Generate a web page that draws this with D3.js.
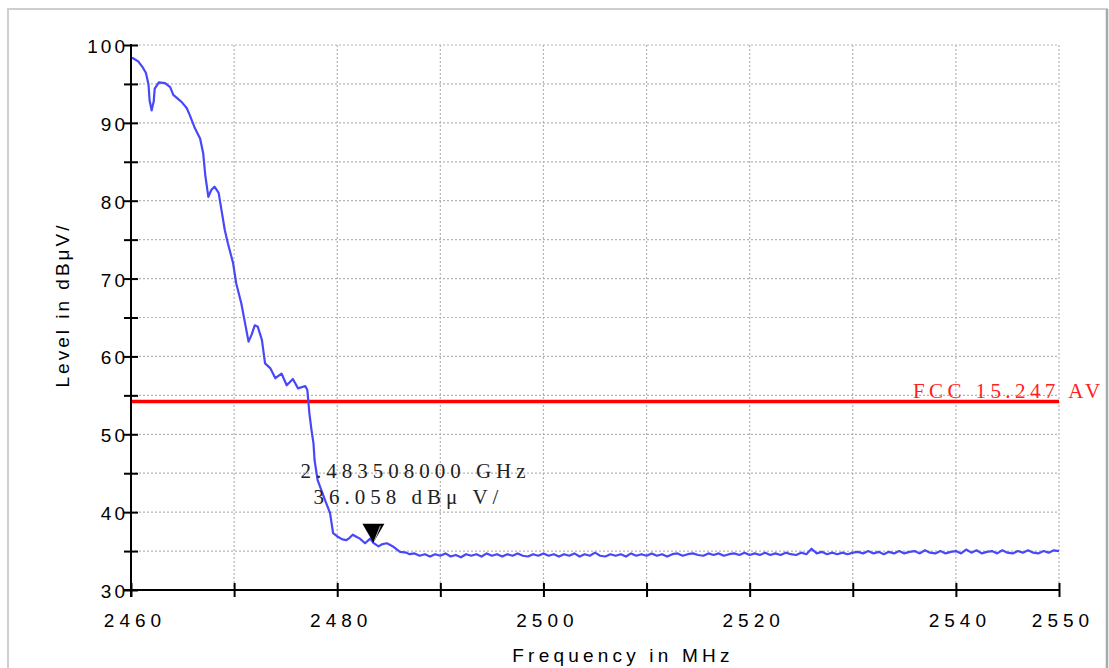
<!DOCTYPE html>
<html><head><meta charset="utf-8">
<script src="https://cdn.jsdelivr.net/npm/d3@7"></script>
<style>html,body{margin:0;padding:0;background:#fff;}svg{display:block;}</style>
</head><body>
<svg id="chart" width="1109" height="668"></svg>
<script>
// ---- data ----
const traceFreq = [2460.0,2460.2,2460.7,2461.1,2461.45,2461.7,2461.8,2462.0,2462.1,2462.2,2462.3,2462.7,2463.3,2463.8,2464.1,2464.9,2465.4,2465.7,2466.2,2466.7,2467.0,2467.2,2467.5,2467.8,2468.1,2468.5,2468.8,2469.1,2469.4,2469.9,2470.2,2470.7,2471.0,2471.4,2471.7,2472.0,2472.3,2472.7,2473.0,2473.5,2474.0,2474.6,2475.1,2475.7,2476.2,2476.9,2477.1,2477.3,2477.5,2477.7,2477.8,2478.1,2478.8,2479.3,2479.6,2480.1,2480.5,2480.9,2481.2,2481.5,2481.9,2482.2,2482.7,2483.2,2483.5,2484.0,2484.4,2484.8,2485.1,2485.4,2485.8,2486.1,2486.7,2487.0,
2487.5,2488,2488.5,2489,2489.5,2490,2490.5,2491,2491.5,2492,2492.5,2493,2493.5,2494,2494.5,2495,2495.5,2496,2496.5,2497,2497.5,2498,2498.5,2499,2499.5,2500,2500.5,2501,2501.5,2502,2502.5,2503,2503.5,2504,2504.5,2505,2505.5,2506,2506.5,2507,2507.5,2508,2508.5,2509,2509.5,2510,2510.5,2511,2511.5,2512,2512.5,2513,2513.5,2514,2514.5,2515,2515.5,2516,2516.5,2517,2517.5,2518,2518.5,2519,2519.5,2520,2520.5,2521,2521.5,2522,2522.5,2523,2523.5,2524,2524.5,2525,2525.5,2526,2526.5,2527,2527.5,2528,2528.5,2529,2529.5,2530,2530.5,2531,2531.5,2532,2532.5,2533,2533.5,2534,2534.5,2535,2535.5,2536,2536.5,2537,2537.5,2538,2538.5,2539,2539.5,2540,2540.5,2541,2541.5,2542,2542.5,2543,2543.5,2544,2544.5,2545,2545.5,2546,2546.5,2547,2547.5,2548,2548.5,2549,2549.5,2550];
const traceLevel = [98.4,98.3,97.9,97.2,96.4,94.9,92.9,91.6,92.2,92.7,94.4,95.2,95.1,94.6,93.6,92.7,91.9,91.0,89.3,88.0,86.1,83.3,80.5,81.4,81.8,81.0,78.6,76.2,74.5,72.0,69.4,66.8,64.7,61.9,62.8,64.0,63.8,62.1,59.1,58.5,57.2,57.8,56.3,57.1,55.9,56.2,55.7,52.7,50.6,48.8,46.7,44.1,41.6,39.9,37.3,36.8,36.5,36.4,36.7,37.1,36.8,36.6,36.0,36.6,36.06,35.6,35.9,36.0,35.8,35.6,35.2,34.9,34.8,34.6,
34.7,34.4,34.6,34.3,34.6,34.4,34.7,34.3,34.5,34.2,34.6,34.4,34.6,34.3,34.7,34.4,34.6,34.3,34.6,34.4,34.7,34.4,34.3,34.6,34.4,34.7,34.4,34.6,34.3,34.6,34.4,34.7,34.3,34.6,34.4,34.8,34.4,34.3,34.6,34.4,34.6,34.3,34.7,34.4,34.6,34.4,34.7,34.4,34.6,34.3,34.6,34.7,34.4,34.6,34.7,34.5,34.4,34.7,34.5,34.7,34.4,34.6,34.7,34.5,34.8,34.5,34.7,34.5,34.8,34.5,34.7,34.5,34.8,34.6,34.5,34.8,34.6,35.3,34.7,34.9,34.6,34.8,34.6,34.8,34.6,34.8,34.9,34.7,35.0,34.7,34.9,34.6,34.9,34.7,35.0,34.7,34.9,35.0,34.7,35.1,34.8,34.7,35.0,34.7,34.9,35.0,34.7,35.2,34.8,35.1,34.7,34.9,35.0,34.7,35.1,34.8,34.7,35.0,34.8,35.1,34.8,34.7,35.0,34.8,35.1,35.0];
const limitLevel = 54.2;
const limitLabel = "FCC 15.247 AV";
const markerFreq = 2483.508;
const markerLevel = 36.058;
const markerLine1 = "2.483508000 GHz";
const markerLine2 = "36.058 dBμ V/";
const xTickValues = [2460,2470,2480,2490,2500,2510,2520,2530,2540,2550];
const xTickLabels = [2460,2480,2500,2520,2540,2550];
const yTickValues = [30,35,40,45,50,55,60,65,70,75,80,85,90,95,100];
const yTickLabels = [30,40,50,60,70,80,90,100];
const xTitle = "Frequency in MHz";
const yTitle = "Level in dBμV/";

// ---- drawing ----
const svg = d3.select("#chart");
const x = d3.scaleLinear().domain([2460, 2550]).range([131, 1059]);
const y = d3.scaleLinear().domain([30, 100]).range([590, 45]);

// outer frame
svg.append("rect").attr("x", 8).attr("y", 9).attr("width", 1099).attr("height", 700)
  .attr("fill", "#fff").attr("stroke", "#cfcfcf").attr("stroke-width", 2);
svg.append("line").attr("x1", 1107).attr("x2", 1107).attr("y1", 9).attr("y2", 668)
  .attr("stroke", "#a8a8a8").attr("stroke-width", 2.5);

// grid
const grid = svg.append("g").attr("stroke", "#b4b4b4").attr("stroke-width", 1.2).attr("stroke-dasharray", "2,2");
xTickValues.filter(v => v > 2460).forEach(v => {
  grid.append("line").attr("x1", x(v)).attr("x2", x(v)).attr("y1", y(100)).attr("y2", y(30));
});
yTickValues.filter(v => v > 30).forEach(v => {
  grid.append("line").attr("x1", x(2460)).attr("x2", x(2550)).attr("y1", y(v)).attr("y2", y(v));
});

// limit line
svg.append("line").attr("x1", x(2460)).attr("x2", x(2550)).attr("y1", y(limitLevel)).attr("y2", y(limitLevel))
  .attr("stroke", "#ff0000").attr("stroke-width", 3.5);
svg.append("text").attr("x", x(2550) - 146).attr("y", y(limitLevel) - 4)
  .attr("font-family", "'Liberation Serif', serif").attr("font-size", 21).attr("letter-spacing", 4.4)
  .attr("fill", "#ff2020").text(limitLabel);

// trace
const pts = traceFreq.map((f, i) => [f, traceLevel[i]]);
svg.append("path").datum(pts)
  .attr("fill", "none").attr("stroke", "#4848f8").attr("stroke-width", 2.2).attr("stroke-linejoin", "round")
  .attr("d", d3.line().x(d => x(d[0])).y(d => y(d[1])));

// axes
const xAxis = d3.axisBottom(x).tickValues(xTickValues).tickSize(0).tickFormat("");
const yAxis = d3.axisLeft(y).tickValues(yTickValues).tickSize(0).tickFormat("");
const gx = svg.append("g").attr("transform", `translate(0,${y(30)})`).call(xAxis);
const gy = svg.append("g").attr("transform", `translate(${x(2460)},0)`).call(yAxis);
[gx, gy].forEach(g => g.select(".domain").attr("stroke", "#000").attr("stroke-width", 2));
gx.selectAll(".tick line").attr("y1", -7).attr("y2", 7).attr("stroke", "#000").attr("stroke-width", 2);
gy.selectAll(".tick line").attr("x1", -7).attr("x2", 7).attr("stroke", "#000").attr("stroke-width", 2);
gx.select(".domain").attr("d", `M${x(2460)-7},0H${x(2550)}`);
gy.select(".domain").attr("d", `M0,${y(100)-1}V${y(30)+7}`);

// tick labels
svg.append("g").selectAll("text").data(xTickLabels).join("text")
  .attr("x", d => x(d) + 4).attr("y", 627).attr("text-anchor", "middle")
  .attr("font-family", "'Liberation Sans', Arial, sans-serif").attr("font-size", 19).attr("letter-spacing", 5)
  .attr("fill", "#000").text(d => d);
svg.append("g").selectAll("text").data(yTickLabels).join("text")
  .attr("x", x(2460) - 3).attr("y", d => y(d) + 8).attr("text-anchor", "end")
  .attr("font-family", "'Liberation Sans', Arial, sans-serif").attr("font-size", 19).attr("letter-spacing", 3)
  .attr("fill", "#000").text(d => d);

// axis titles
svg.append("text").attr("x", 623).attr("y", 662).attr("text-anchor", "middle")
  .attr("font-family", "'Liberation Sans', Arial, sans-serif").attr("font-size", 19).attr("letter-spacing", 4.2)
  .attr("fill", "#000").text(xTitle);
svg.append("text").attr("transform", `translate(69,305) rotate(-90)`).attr("text-anchor", "middle")
  .attr("font-family", "'Liberation Sans', Arial, sans-serif").attr("font-size", 19).attr("letter-spacing", 3)
  .attr("fill", "#000").text(yTitle);

// marker
const mx = x(markerFreq), my = y(markerLevel);
svg.append("path").attr("d", `M${mx-11},${my-19}L${mx+11},${my-19}L${mx},${my}Z`).attr("fill", "#000");
svg.append("line").attr("x1", mx+7).attr("y1", my-17).attr("x2", mx+1).attr("y2", my-2)
  .attr("stroke", "#bbb").attr("stroke-width", 1);
const mt = svg.append("g").attr("font-family", "'Liberation Serif', serif").attr("font-size", 21)
  .attr("letter-spacing", 5).attr("fill", "#222");
mt.append("text").attr("x", mx - 73).attr("y", my - 65).text(markerLine1);
mt.append("text").attr("x", mx - 60).attr("y", my - 39).text(markerLine2);
</script>
</body></html>
